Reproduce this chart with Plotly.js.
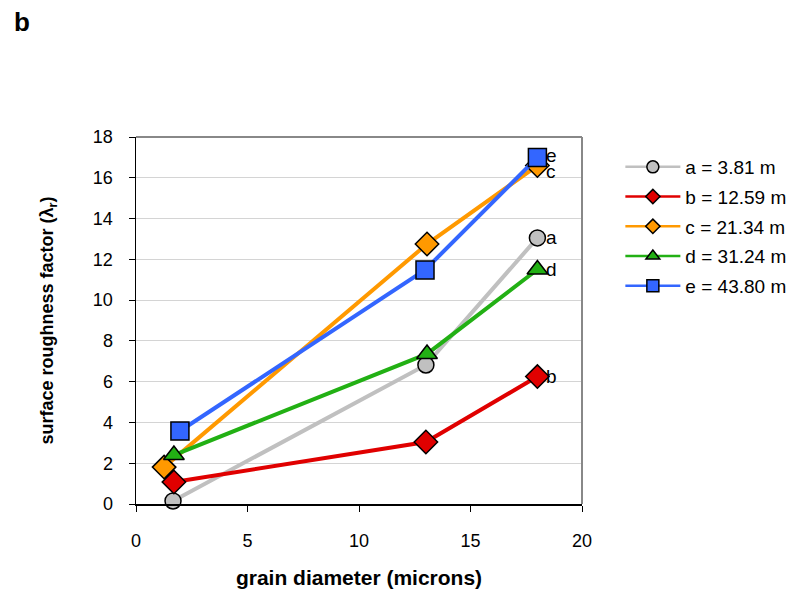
<!DOCTYPE html>
<html>
<head>
<meta charset="utf-8">
<script src="https://cdn.plot.ly/plotly-3.0.1.min.js"></script>
<style>body{margin:0;padding:0;background:#fff}#chart{width:797px;height:599px}</style>
</head>
<body>
<div id="chart"></div>
<script>
const seriesNames = ['a = 3.81 m', 'b = 12.59 m', 'c = 21.34 m', 'd = 31.24 m', 'e = 43.80 m'];
const pointLabels = ['a', 'b', 'c', 'd', 'e'];
const xA = [1.66, 13.0, 18.0];
const yA = [0.15, 6.82, 13.05];
const xB = [1.70, 13.0, 18.0];
const yB = [1.08, 3.04, 6.25];
const xC = [1.26, 13.05, 18.0];
const yC = [1.81, 12.75, 16.6];
const xD = [1.70, 13.05, 18.0];
const yD = [2.40, 7.36, 11.5];
const xE = [1.97, 12.96, 18.0];
const yE = [3.58, 11.48, 17.0];
const xTicks = [0, 5, 10, 15, 20];
const yTicks = [0, 2, 4, 6, 8, 10, 12, 14, 16, 18];

const xs = [xA, xB, xC, xD, xE];
const ys = [yA, yB, yC, yD, yE];
const colors = ['#c0c0c0', '#e00000', '#ff9900', '#22b014', '#3366ff'];
const symbols = ['circle', 'diamond', 'diamond', 'triangle-up', 'square'];
const sizes = [16, 18, 18, 18, 18];
const legSizes = [12, 11, 11, 12, 12];
const labelShift = [0, 0, 6, 0, -2];

const traces = [];
for (let i = 0; i < 5; i++) {
  traces.push({
    x: xs[i], y: ys[i], type: 'scatter', mode: 'lines+markers',
    line: {color: colors[i], width: 4},
    marker: {symbol: symbols[i], size: sizes[i], color: colors[i], line: {color: '#000', width: 1.5}},
    showlegend: false, hoverinfo: 'skip', cliponaxis: false
  });
}
for (let i = 0; i < 5; i++) {
  traces.push({
    x: [null], y: [null], type: 'scatter', mode: 'lines+markers', name: seriesNames[i],
    legendgroup: 'g' + i,
    line: {color: colors[i], width: 2.5},
    marker: {symbol: symbols[i], size: legSizes[i], color: colors[i], line: {color: '#000', width: 1.5}},
    showlegend: true
  });
}

const annotations = [];
for (let i = 0; i < 5; i++) {
  const n = xs[i].length - 1;
  annotations.push({
    x: xs[i][n], y: ys[i][n], xref: 'x', yref: 'y', text: pointLabels[i],
    showarrow: false, xanchor: 'left', yanchor: 'middle', xshift: 7, yshift: -labelShift[i],
    font: {family: 'Liberation Sans, Arial, sans-serif', size: 19, color: '#000'}
  });
}
annotations.push({
  x: -0.278, y: 1.313, xref: 'paper', yref: 'paper', text: '<b>b</b>', showarrow: false,
  xanchor: 'left', yanchor: 'middle',
  font: {family: 'Liberation Sans, Arial, sans-serif', size: 26, color: '#000'}
});

const layout = {
  width: 797, height: 599,
  margin: {l: 136, r: 215, t: 137, b: 95, autoexpand: false},
  paper_bgcolor: '#fff', plot_bgcolor: '#fff',
  font: {family: 'Liberation Sans, Arial, sans-serif', color: '#000'},
  xaxis: {
    range: [0, 20], tickvals: xTicks, ticktext: xTicks.map(String),
    ticks: 'outside', ticklen: 6, tickcolor: '#000', tickwidth: 1, ticklabelstandoff: 14,
    showline: true, linecolor: '#000', linewidth: 1.5, showgrid: false, zeroline: false,
    tickfont: {size: 18},
    title: {text: '<b>grain diameter (microns)</b>', font: {size: 21}, standoff: 20}
  },
  yaxis: {
    range: [0, 18], tickvals: yTicks, ticktext: yTicks.map(String),
    ticks: 'outside', ticklen: 6, tickcolor: '#000', tickwidth: 1, ticklabelstandoff: 12,
    showline: true, linecolor: '#000', linewidth: 1.5,
    showgrid: true, gridcolor: '#d4d4d4', gridwidth: 1, zeroline: false,
    tickfont: {size: 18},
    title: {text: '<b>surface roughness factor (λ<sub>r</sub>)</b>', font: {size: 18}, standoff: 34}
  },
  shapes: [
    {type: 'line', xref: 'paper', yref: 'paper', x0: 0, x1: 1, y0: 1, y1: 1, line: {color: '#888', width: 2}},
    {type: 'line', xref: 'paper', yref: 'paper', x0: 1, x1: 1, y0: 0, y1: 1, line: {color: '#888', width: 2}}
  ],
  legend: {
    x: 1.086, y: 0.97, xanchor: 'left', yanchor: 'top',
    font: {size: 19}, itemwidth: 55, tracegroupgap: 2, traceorder: 'grouped',
    bgcolor: 'rgba(0,0,0,0)'
  },
  annotations: annotations,
  showlegend: true
};

Plotly.newPlot('chart', traces, layout, {staticPlot: true});
</script>
</body>
</html>
